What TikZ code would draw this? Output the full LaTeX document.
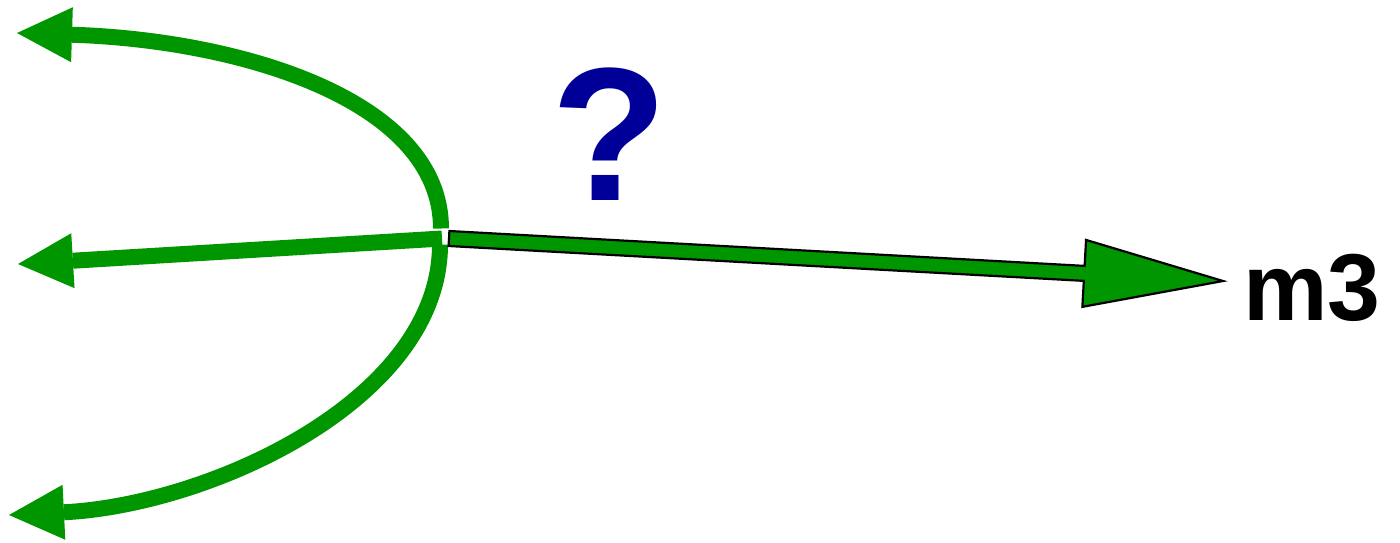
\documentclass[tikz,border=0pt]{standalone}
\usepackage{fontspec}
\setmainfont{Liberation Sans}
\usetikzlibrary{arrows.meta,calc}
\definecolor{leafgreen}{RGB}{0,150,0}
\definecolor{darkblue}{RGB}{0,0,153}
\tikzset{
  branch/.style  ={draw=leafgreen, line width=16pt,
                   -{Triangle[length=55pt,width=55pt,line width=0pt]}},
  fatarrow/.style={draw=black, line width=2.2pt, fill=leafgreen, line join=miter},
  bigtxt/.style  ={font=\fontsize{95}{95}\selectfont\bfseries, inner sep=0pt},
}

\begin{document}
\begin{tikzpicture}[x=1pt,y=-1pt]
\useasboundingbox (0,0) rectangle (1400,542);
\coordinate (hub) at (449,238.5);
\coordinate (tipA) at (17,33);
\coordinate (tipB) at (18,264);
\coordinate (tipC) at (9,515);
\coordinate (tipR) at (1223,281);

% labels
\node[bigtxt, anchor=base west] (m3) at (1243,320) {m3};
\node[font=\fontsize{190}{190}\selectfont\bfseries, inner sep=0pt, text=darkblue,
      anchor=base] (ask) at (609.5,200) {?};

% left branches
\draw[branch] ($(hub)+(-8,-10)$) .. controls (441,100) and (240,40) .. (tipA);
\draw[branch] ($(hub)+(-7,0)$) -- (tipB);
\draw[branch] ($(hub)+(-9,6)$) .. controls (440,400) and (210,505) .. (tipC);

% thick outlined arrow to m3
\coordinate (base) at ($(tipR)!139pt!(hub)$);
\draw[fatarrow] ($(hub)!7.5pt!90:(tipR)$) -- ($(base)!7.5pt!90:(tipR)$)
   -- ($(base)!33.5pt!90:(tipR)$) -- (tipR) -- ($(base)!33.5pt!-90:(tipR)$)
   -- ($(base)!7.5pt!-90:(tipR)$) -- ($(hub)!7.5pt!-90:(tipR)$) -- cycle;
\end{tikzpicture}
\end{document}
